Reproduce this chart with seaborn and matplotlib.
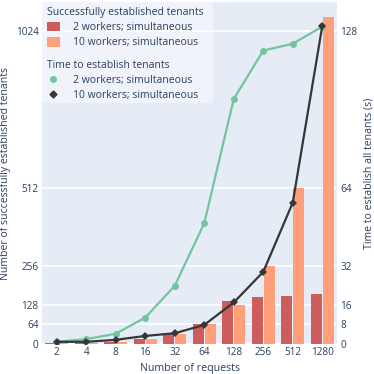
import numpy as np
import pandas as pd
import matplotlib
matplotlib.use("Agg")
import matplotlib.pyplot as plt
import seaborn as sns
from matplotlib.patches import Patch, Rectangle
from matplotlib.lines import Line2D

# data
requests = ["2", "4", "8", "16", "32", "64", "128", "256", "512", "1280"]
series = ["2 workers; simultaneous", "10 workers; simultaneous"]
established_2w = [2, 4, 8, 17, 36, 64, 142, 154, 157, 165]
established_10w = [2, 4, 8, 16, 32, 64, 128, 256, 512, 1071]
time_2w = [0.9, 2.0, 4.2, 10.8, 23.8, 49.4, 100.2, 120.0, 122.8, 129.8]
time_10w = [0.9, 0.9, 1.7, 3.3, 4.4, 7.8, 17.0, 29.5, 57.8, 130.0]
left_ticks = [0, 64, 128, 256, 512, 1024]
right_ticks = [0, 8, 16, 32, 64, 128]

red = "#CD5C5C"
orange = "#FFA07A"
green = "#72C59D"
dark = "#363636"
txt = "#2a3f5f"

plt.rcParams["font.family"] = ["Open Sans", "DejaVu Sans"]
plt.rcParams["font.size"] = 7
plt.rcParams["text.color"] = txt

bars = pd.DataFrame({
    "requests": requests * 2,
    "count": established_2w + established_10w,
    "series": [series[0]] * len(requests) + [series[1]] * len(requests),
})

fig = plt.figure(figsize=(3.74, 3.74), dpi=100)
ax = fig.add_axes([42 / 374, 30 / 374, 295 / 374, 342 / 374])
ax.set_facecolor("#E5ECF6")

sns.barplot(data=bars, x="requests", y="count", hue="series", order=requests,
            hue_order=series, palette=[red, orange], saturation=1,
            width=0.8, gap=0.08, ax=ax, legend=False, zorder=2)

top = 1119
ax.set_ylim(0, top)
ax.set_xlim(-0.5, len(requests) - 0.5)
ax.set_yticks(left_ticks)
ax.grid(axis="y", color="white", linewidth=1.2, zorder=0)
ax.set_axisbelow(True)
for s in ax.spines.values():
    s.set_visible(False)
ax.tick_params(length=0, colors=txt, labelsize=7.2, pad=2.5)
ax.set_xlabel("Number of requests", color=txt, fontsize=7.7, labelpad=3.5)
ax.set_ylabel("Number of successfully established tenants", color=txt, fontsize=7.6, labelpad=3)

ax2 = ax.twinx()
x = np.arange(len(requests))
sns.lineplot(x=x, y=time_2w, ax=ax2, color=green, linewidth=1.6,
             marker="o", markersize=5, markeredgewidth=0)
sns.lineplot(x=x, y=time_10w, ax=ax2, color=dark, linewidth=1.6,
             marker="D", markersize=4.5, markeredgewidth=0)
ax2.set_ylim(0, top / 8)
ax2.set_yticks(right_ticks)
ax2.grid(False)
for s in ax2.spines.values():
    s.set_visible(False)
ax2.tick_params(length=0, colors=txt, labelsize=7.2, pad=2.5)
ax2.set_ylabel("Time to establish all tenants (s)", color=txt, fontsize=7.6, labelpad=4)

# legend background
ax2.add_patch(Rectangle((0, 0.705), 0.58, 0.3, transform=ax2.transAxes,
                        facecolor="white", alpha=0.45, edgecolor="none",
                        zorder=5, clip_on=False))

bar_handles = [Patch(facecolor=red, edgecolor="none"), Patch(facecolor=orange, edgecolor="none")]
line_handles = [Line2D([], [], color=green, marker="o", markersize=4, linestyle="none"),
                Line2D([], [], color=dark, marker="D", markersize=3.5, linestyle="none")]

kw = dict(loc="upper left", frameon=False, fontsize=7.5, title_fontsize=7.5,
          handlelength=1.3, handleheight=1.0, handletextpad=1.2, labelspacing=0.4,
          borderaxespad=0, borderpad=0.45, alignment="left")
leg1 = ax2.legend(bar_handles, series, title="Successfully established tenants",
                  bbox_to_anchor=(0.0, 1.0), **kw)
leg1.set_zorder(6)
ax2.add_artist(leg1)
leg2 = ax2.legend(line_handles, series, title="Time to establish tenants",
                  bbox_to_anchor=(0.0, 0.845), **kw)
leg2.set_zorder(6)
for lg in (leg1, leg2):
    lg.get_title().set_color(txt)
    for t in lg.get_texts():
        t.set_color(txt)

fig.savefig("out.png", dpi=100)
